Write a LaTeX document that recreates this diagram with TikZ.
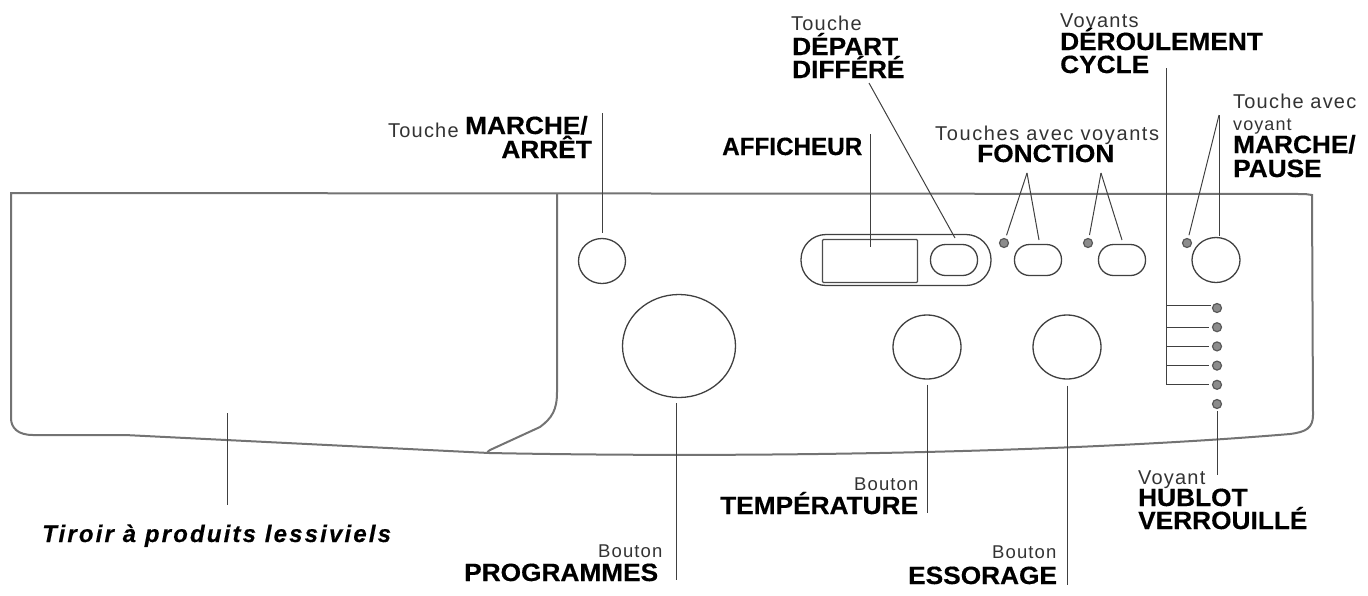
\documentclass[tikz,border=0pt]{standalone}
\usepackage{fontspec}
\usetikzlibrary{shapes.geometric}
\setmainfont{Liberation Sans}
\newfontfamily\lightfont[LetterSpace=6]{Liberation Sans}
\newfontfamily\capsfont[FakeStretch=1.05,FakeBold=0.4]{Liberation Sans}
\newfontfamily\tightfont[FakeStretch=0.97,FakeBold=0.4]{Liberation Sans}
\newfontfamily\drawerfont[LetterSpace=9,FakeBold=0.4]{Liberation Sans}
\begin{document}
\begin{tikzpicture}[x=1pt,y=-1pt,node distance=19.2pt,
    small/.style={anchor=base west,inner sep=0pt,text=black!80,font=\lightfont\fontsize{20}{20}\selectfont},
    caps/.style={anchor=base west,inner sep=0pt,font=\capsfont\bfseries\fontsize{25}{25}\selectfont},
    knob/.style={ellipse,draw=black!75,line width=1.3pt,inner sep=0pt},
    pill/.style={rectangle,draw=black!75,line width=1.3pt,inner sep=0pt,minimum width=47pt,minimum height=31pt,rounded corners=15pt},
    led/.style={circle,draw=black!65,fill=black!45,line width=1.2pt,inner sep=0pt,minimum size=9pt},
    leader/.style={draw=black!75,line width=1pt}]
    \useasboundingbox (0,0) rectangle (1368,595);

    % panel
    \draw[black!55,line width=2pt] (11,193) -- (1305,194) -- (1312,195) -- (1313,415)
        .. controls (1313,428) and (1306,432) .. (1290,434)
        .. controls (1100,450) and (800,459) .. (489,453)
        -- (125,435) -- (33,435) .. controls (18,435) and (11,428) .. (11,418) -- cycle;
    \draw[black!55,line width=2pt] (557,194) -- (557,392)
        .. controls (557,410) and (552,418) .. (540,427) -- (490,450)
        .. controls (487,452) and (487,453) .. (489,453);

    % buttons
    \node[knob,minimum width=47pt,minimum height=45pt] (onoff) at (602,261) {};
    \node[knob,minimum width=113pt,minimum height=103pt] (prog) at (679,346) {};
    \node[knob,minimum width=68pt,minimum height=64pt] (temp) at (927,347) {};
    \node[knob,minimum width=68pt,minimum height=64pt] (spin) at (1067,347) {};
    \node[knob,minimum width=48pt,minimum height=45pt] (start) at (1216,260) {};

    % display
    \node[rectangle,draw=black!75,line width=1.3pt,inner sep=0pt,minimum width=190pt,minimum height=51pt,rounded corners=25pt] (case) at (896,260) {};
    \node[rectangle,draw=black!70,line width=1.3pt,inner sep=0pt,minimum width=95pt,minimum height=43pt,rounded corners=1pt] (screen) at (870,261) {};
    \node[pill] (delay) at (954,260) {};
    \node[pill] (fn1) at (1038,260) {};
    \node[pill] (fn2) at (1122,260) {};
    \node[led] (led1) at (1004,243) {};
    \node[led] (led2) at (1088,243) {};
    \node[led] (led3) at (1187,243) {};

    % cycle lights
    \node[led] (c1) at (1217,308) {};
    \node[led] (c2) [below of=c1] {};
    \node[led] (c3) [below of=c2] {};
    \node[led] (c4) [below of=c3] {};
    \node[led] (c5) [below of=c4] {};
    \node[led] (c6) [below of=c5] {};

    % texts
    \node[small] (t1) at (388,137) {Touche};
    \node[caps] (t2) at (465,134) {MARCHE/};
    \node[caps,anchor=base east] (t3) at (592,158) {ARRÊT};
    \node[caps,font=\tightfont\bfseries\fontsize{25}{25}\selectfont] (t4) at (722,155) {AFFICHEUR};
    \node[small] (t5) at (791,30) {Touche};
    \node[caps] (t6) at (792,55) {DÉPART};
    \node[caps] (t7) at (792,78) {DIFFÉRÉ};
    \node[small,font=\lightfont\addfontfeature{LetterSpace=8}\fontsize{20}{20}\selectfont] (t8) at (935,140) {Touches avec voyants};
    \node[caps] (t9) at (977,162) {FONCTION};
    \node[small] (t10) at (1060,27) {Voyants};
    \node[caps] (t11) at (1060,50) {DÉROULEMENT};
    \node[caps] (t12) at (1060,73) {CYCLE};
    \node[small] (t13) at (1233,108) {Touche avec};
    \node[small,font=\lightfont\fontsize{18}{18}\selectfont] (t14) at (1233,130) {voyant};
    \node[caps] (t15) at (1233,153) {MARCHE/};
    \node[caps] (t16) at (1233,177) {PAUSE};
    \node[anchor=base west,inner sep=0pt,font=\drawerfont\bfseries\itshape\fontsize{24}{24}\selectfont] (t17) at (42,542) {Tiroir à produits lessiviels};
    \node[small,font=\lightfont\fontsize{18.5}{18.5}\selectfont] (t18) at (598,557) {Bouton};
    \node[caps] (t19) at (464,581) {PROGRAMMES};
    \node[small,font=\lightfont\fontsize{18.5}{18.5}\selectfont] (t20) at (854,490) {Bouton};
    \node[caps] (t21) at (720,514) {TEMPÉRATURE};
    \node[small,font=\lightfont\fontsize{18.5}{18.5}\selectfont] (t22) at (992,558) {Bouton};
    \node[caps] (t23) at (908,584) {ESSORAGE};
    \node[small] (t24) at (1138,484) {Voyant};
    \node[caps] (t25) at (1138,506) {HUBLOT};
    \node[caps] (t26) at (1138,529) {VERROUILLÉ};

    % free ends of the leaders
    \coordinate (a1) at (602,113);
    \coordinate (a2) at (870,134);
    \coordinate (a3) at (869,83);
    \coordinate (a4) at (1027,173);
    \coordinate (a5) at (1101,173);
    \coordinate (a6) at (1219,115);
    \coordinate (a7) at (1166,68);
    \coordinate (a8) at (1166,384);
    \coordinate (a9) at (227,413);
    \coordinate (a10) at (227,505);
    \coordinate (a11) at (676,580);
    \coordinate (a12) at (927,513);
    \coordinate (a13) at (1067,585);
    \coordinate (a14) at (1217,475);
    \coordinate (a15) at (870,247);
    \coordinate (a16) at (955,238);
    \coordinate (a17) at (1122,240);
    \coordinate (a18) at (1039,240);
    \coordinate (a19) at (1219,236);
    \coordinate (a20) at (1211,305);

    \path[leader]
        (a1) edge [shorten >=5pt] (onoff.north)
        (a2) edge (a15)
        (a3) edge (a16)
        (a4) edge [shorten >=3pt] (led1)
        (a4) edge (a18)
        (a5) edge [shorten >=3pt] (led2)
        (a5) edge (a17)
        (a6) edge [shorten >=3pt] (led3)
        (a6) edge (a19)
        (a7) edge (a8)
        (a9) edge (a10)
        (a11 |- prog.south) edge [shorten <=5pt] (a11)
        (temp.south) edge [shorten <=5pt] (a12)
        (spin.south) edge [shorten <=6pt] (a13)
        (c6.south) edge [shorten <=2pt] (a14)
        (a7 |- a20) edge (a20);
    \path[leader,shorten >=3pt]
        (a7 |- c2) edge (c2)
        (a7 |- c3) edge (c3)
        (a7 |- c4) edge (c4)
        (a8) edge (a8 -| c5.west);
\end{tikzpicture}
\end{document}
